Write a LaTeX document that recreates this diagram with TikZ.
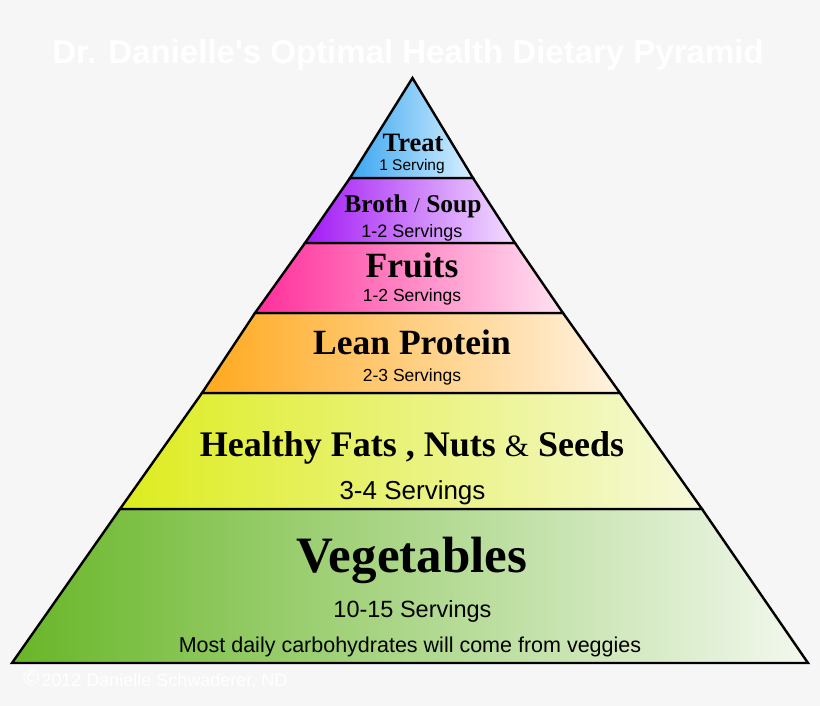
\documentclass[tikz,border=0pt]{standalone}
\usepackage{fontspec}
\setmainfont{Liberation Serif}
\newfontfamily\arialf{Liberation Sans}
\usetikzlibrary{calc}
\definecolor{bg}{HTML}{F6F6F6}
\definecolor{treatL}{HTML}{3AA6F0}
\definecolor{treatR}{HTML}{D8F0FF}
\definecolor{brothL}{HTML}{A31AF5}
\definecolor{brothR}{HTML}{F2DEFF}
\definecolor{fruitL}{HTML}{FF2E9A}
\definecolor{fruitR}{HTML}{FFE2F1}
\definecolor{leanL}{HTML}{FFA91E}
\definecolor{leanR}{HTML}{FFF3E2}
\definecolor{fatL}{HTML}{DDEC1E}
\definecolor{fatR}{HTML}{F6F9DA}
\definecolor{vegL}{HTML}{68B628}
\definecolor{vegR}{HTML}{F3F8EE}
\tikzset{
  band/.style={draw=black, line width=2.4pt},
  ttl/.style={anchor=base, inner sep=0pt, font=\bfseries},
  srv/.style={anchor=base, inner sep=0pt},
}
\newcommand{\fsz}[1]{\fontsize{#1}{#1}\selectfont}
\begin{document}
\begin{tikzpicture}[x=1pt,y=-1pt]
\useasboundingbox (0,0) rectangle (820,706);
\fill[bg] (0,0) rectangle (820,706);
% bands
\shade[band, left color=vegL, right color=vegR] (120,509) -- (702,509) -- (808,663) -- (12,663) -- cycle;
\shade[band, left color=fatL, right color=fatR] (202,393) -- (620,393) -- (702,509) -- (120,509) -- cycle;
\shade[band, left color=leanL, right color=leanR] (255,313) -- (563,313) -- (620,393) -- (202,393) -- cycle;
\shade[band, left color=fruitL, right color=fruitR] (305,243) -- (515,243) -- (563,313) -- (255,313) -- cycle;
\shade[band, left color=brothL, right color=brothR] (350,178) -- (473,178) -- (515,243) -- (305,243) -- cycle;
\shade[band, left color=treatL, right color=treatR] (412.5,78) -- (473,178) -- (350,178) -- cycle;
% title & copyright
\node[anchor=base, inner sep=0pt, text=white, font=\arialf\bfseries\fsz{33}] (title) at (408,64) {Dr. Danielle's Optimal Health Dietary Pyramid};
\node[anchor=base west, inner sep=0pt, text=white, font=\arialf\fsz{18}] (copy) at (23,686) {\raisebox{1pt}{\fsz{22}\textcopyright}\hspace{2pt}2012 Danielle Schwaderer, ND};
% texts
\node[ttl, font=\bfseries\fsz{26.5}] (treat) at (413,152) {Treat};
\node[srv, font=\arialf\fsz{15.5}] (treatS) at (412,171) {1 Serving};
\node[ttl, font=\bfseries\fsz{25.5}] (broth) at (413,212) {Broth {\mdseries\fsz{21}/} Soup};
\node[srv, font=\arialf\fsz{18}] (brothS) at (412,237) {1-2 Servings};
\node[ttl, font=\bfseries\fsz{35.5}] (fruit) at (412,277) {Fruits};
\node[srv, font=\arialf\fsz{17.5}] (fruitS) at (412,301) {1-2 Servings};
\node[ttl, font=\bfseries\fsz{35.5}] (lean) at (412,354) {Lean Protein};
\node[srv, font=\arialf\fsz{17.5}] (leanS) at (412,381) {2-3 Servings};
\node[ttl, font=\bfseries\fsz{36}] (fat) at (412,456) {Healthy Fats , Nuts {\mdseries\fsz{31}\&} Seeds};
\node[srv, font=\arialf\fsz{26}] (fatS) at (412.5,499) {3-4 Servings};
\node[ttl, font=\bfseries\fsz{51}] (veg) at (412,572) {Vegetables};
\node[srv, font=\arialf\fsz{23.5}] (vegS) at (412.5,617) {10-15 Servings};
\node[srv, font=\arialf\fsz{21.5}] (vegN) at (410,652) {Most daily carbohydrates will come from veggies};
\end{tikzpicture}
\end{document}
